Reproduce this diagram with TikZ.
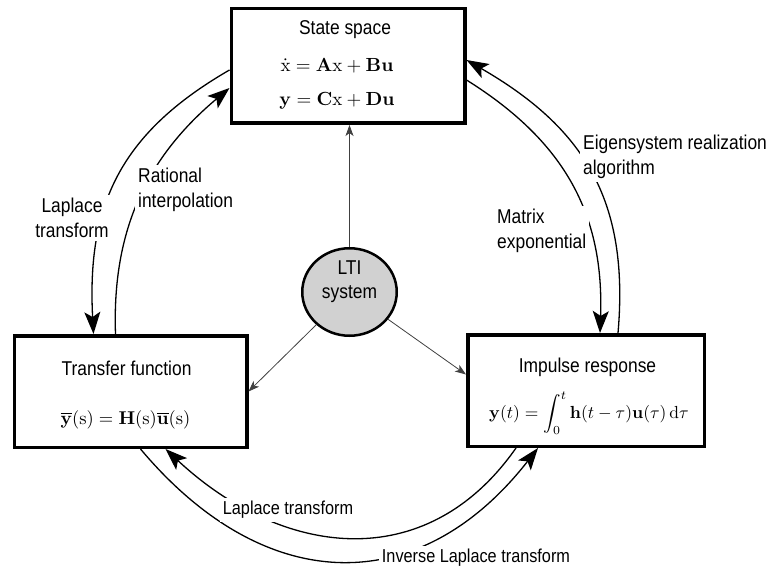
\documentclass[tikz,border=0pt]{standalone}
\usepackage[no-math]{fontspec}
\setmainfont{Liberation Sans}[FakeStretch=0.87]
\usepackage{amsmath}
\usepackage{graphicx}
\usetikzlibrary{arrows.meta}
\usetikzlibrary{positioning}
\usetikzlibrary{shapes.geometric}

\begin{document}
\begin{tikzpicture}[x=1pt,y=1pt,
  box/.style={draw,line width=3.5pt,minimum height=111.5pt,inner sep=0pt},
  title/.style={font=\fontsize{20}{24}\selectfont,inner sep=1pt},
  lbl/.style={font=\fontsize{20}{25}\selectfont,fill=white,inner sep=3pt},
  loop/.style={line width=1.3pt,-{Stealth[length=22pt,width=16pt,inset=5pt]}},
  spoke/.style={line width=0.8pt,black!75,-{Stealth[length=11pt,width=8pt,inset=3pt]}}]

\useasboundingbox (0,0) rectangle (771,571);

\node[box,minimum width=233.5pt,minimum height=114.5pt] (ss) at (348,505) {};
\node[box,minimum width=232.5pt] (tf) at (130.5,179.5) {};
\node[box,minimum width=236.5pt] (ir) at (586,180.5) {};
\node[ellipse,draw,line width=2.5pt,fill=black!18,minimum width=94.5pt,minimum height=87.5pt] (lti) at (349.5,279) {};

% text in the boxes
\node[title,below=23pt of ss.north,anchor=center,xshift=-3pt] (ss title) {State space};
\node[inner sep=0pt,below=59pt of ss.north,anchor=center,xshift=-11pt] (ss eq1) {\scalebox{1.9}{$\dot{\mathrm{x}}=\mathbf{A}\mathrm{x}+\mathbf{B}\mathbf{u}$}};
\node[inner sep=0pt,below=94pt of ss.north,anchor=center,xshift=-11pt] (ss eq2) {\scalebox{1.9}{$\mathbf{y}=\mathbf{C}\mathrm{x}+\mathbf{D}\mathbf{u}$}};

\node[title,below=34pt of tf.north,anchor=center,xshift=-4pt] (tf title) {Transfer function};
\node[inner sep=0pt,below=86pt of tf.north,anchor=center,xshift=-5pt] (tf eq) {\scalebox{1.85}{$\overline{\mathbf{y}}(\mathrm{s})=\mathbf{H}(\mathrm{s})\overline{\mathbf{u}}(\mathrm{s})$}};

\node[title,below=34pt of ir.north,anchor=center,xshift=1.5pt] (ir title) {Impulse response};
\node[inner sep=0pt,below=80pt of ir.north,anchor=center,xshift=3pt] (ir eq) {\scalebox{1.75}{$\displaystyle\mathbf{y}(t)=\int_0^t\mathbf{h}(t-\tau)\mathbf{u}(\tau)\,\mathrm{d}\tau$}};

\node[title,align=center] (lti text) at ([yshift=10pt]lti.center) {LTI\\system};

% spokes
\draw[spoke] (lti.north) -- (lti.north |- ss.south);
\draw[spoke] (lti) -- (tf.east);
\draw[spoke] (lti) -- ([yshift=16pt]ir.west);

% the loops round the outside
\draw[loop] ([yshift=-4pt]ss.west) to[out=210,in=93,looseness=1.1] ([xshift=-37pt]tf.north);
\draw[loop] ([xshift=-15pt]tf.north) to[out=92,in=220] ([yshift=-22pt]ss.west);
\draw[loop] ([xshift=32pt]ir.north) to[out=85,in=-30,looseness=1.1] ([yshift=6pt]ss.east);
\draw[loop] ([yshift=-14pt]ss.east) to[out=-32,in=88,looseness=1.05] ([xshift=14pt]ir.north);
\draw[loop] ([xshift=10pt]tf.south) to[out=-50,in=232,looseness=1.24] ([xshift=-48pt]ir.south);
\draw[loop] ([xshift=-70pt]ir.south) to[out=235,in=317,looseness=1.15] ([xshift=35pt]tf.south);

% labels
\node[lbl,align=center] (lap left) at (72,353) {Laplace\\transform};
\node[lbl,align=left,anchor=west] (rat) at (135,381) {Rational\\interpolation};
\node[lbl,align=left,anchor=west] (era) at (580,414) {Eigensystem realization\\algorithm};
\node[lbl,align=left,anchor=west] (mexp) at (494,340) {Matrix\\exponential};
\node[lbl,font=\fontsize{18.7}{22}\selectfont] (lap bottom) at (288,61) {Laplace transform};
\node[lbl,font=\fontsize{18.7}{22}\selectfont] (inv lap) at (476,13) {Inverse Laplace transform};
\end{tikzpicture}
\end{document}
